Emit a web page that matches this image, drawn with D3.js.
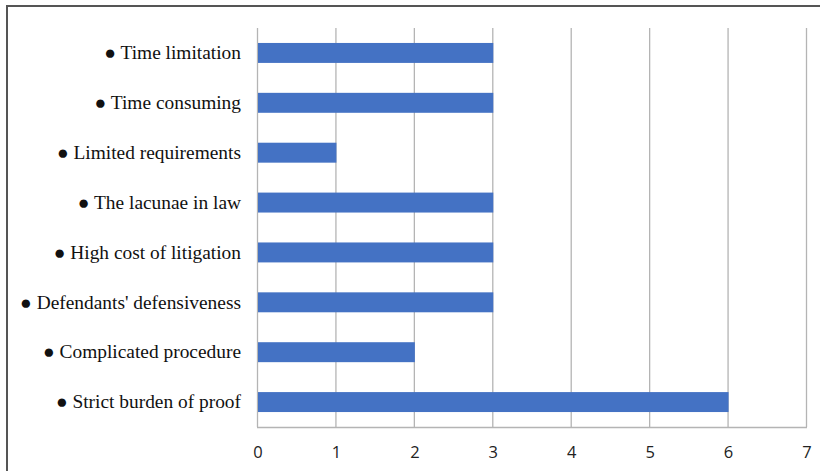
<!DOCTYPE html>
<html>
<head>
<meta charset="utf-8">
<script src="https://cdn.jsdelivr.net/npm/d3@7"></script>
<style>
  html, body { margin: 0; padding: 0; background: #fff; }
  svg { display: block; }
</style>
</head>
<body>
<svg id="chart" width="820" height="471"></svg>
<script>
// Barriers listed top to bottom, with the count for each
const categories = [
  "● Time limitation",
  "● Time consuming",
  "● Limited requirements",
  "● The lacunae in law",
  "● High cost of litigation",
  "● Defendants' defensiveness",
  "● Complicated procedure",
  "● Strict burden of proof"
];
const counts = [3, 3, 1, 3, 3, 3, 2, 6];
const xTicks = [0, 1, 2, 3, 4, 5, 6, 7];

const svg = d3.select("#chart");
const W = 820, H = 471;
const margin = { left: 257, right: 14, top: 28, bottom: 44 };

// Outer frame
svg.append("rect")
  .attr("x", 7).attr("y", 6)
  .attr("width", W + 10).attr("height", H + 10)
  .attr("fill", "none")
  .attr("stroke", "#555")
  .attr("stroke-width", 2);

const x = d3.scaleLinear().domain([0, 7]).range([margin.left, W - margin.right]);
const y = d3.scaleBand().domain(categories)
  .range([margin.top, H - margin.bottom])
  .paddingInner(0.6).paddingOuter(0.3);

// Vertical gridlines
svg.append("g")
  .selectAll("line")
  .data(xTicks)
  .join("line")
  .attr("x1", d => x(d) + 0.5).attr("x2", d => x(d) + 0.5)
  .attr("y1", margin.top).attr("y2", H - margin.bottom)
  .attr("stroke", "#b4b4b4")
  .attr("stroke-width", 1.3);

// Baseline along the bottom of the plot
svg.append("line")
  .attr("x1", x(0)).attr("x2", x(7) + 1)
  .attr("y1", H - margin.bottom + 0.5).attr("y2", H - margin.bottom + 0.5)
  .attr("stroke", "#b4b4b4")
  .attr("stroke-width", 1.3);

// Bars
svg.append("g")
  .selectAll("rect")
  .data(categories)
  .join("rect")
  .attr("x", x(0) + 1)
  .attr("y", d => y(d))
  .attr("width", (d, i) => x(counts[i]) - x(0))
  .attr("height", y.bandwidth())
  .attr("fill", "#4472c4");

// Category labels
const yAxis = d3.axisLeft(y).tickSize(0).tickPadding(16);
const gy = svg.append("g")
  .attr("transform", `translate(${x(0)},0)`)
  .call(yAxis);
gy.select(".domain").remove();
gy.selectAll("text")
  .attr("font-family", "'Liberation Serif', 'Times New Roman', serif")
  .attr("font-size", 19.4)
  .attr("fill", "#111");

// Value axis labels
const xAxis = d3.axisBottom(x).tickValues(xTicks).tickSize(0).tickPadding(19)
  .tickFormat(d3.format("d"));
const gx = svg.append("g")
  .attr("transform", `translate(0.5,${H - margin.bottom})`)
  .call(xAxis);
gx.select(".domain").remove();
gx.selectAll("text")
  .attr("font-family", "'Open Sans', 'Liberation Sans', sans-serif")
  .attr("font-size", 16.5)
  .attr("fill", "#222");
</script>
</body>
</html>
